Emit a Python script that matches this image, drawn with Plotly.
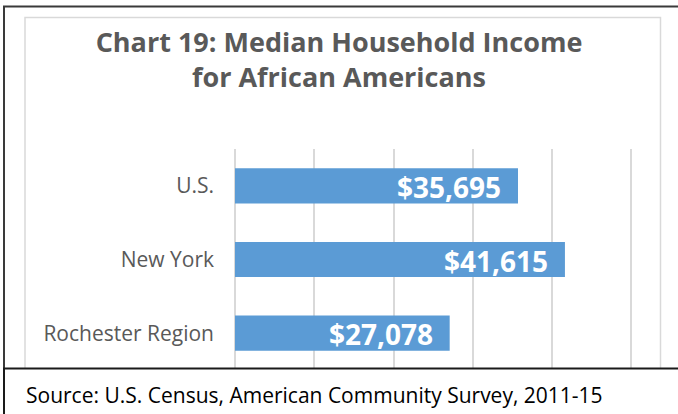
import plotly.graph_objects as go

categories = ["U.S.", "New York", "Rochester Region"]
values = [35695, 41615, 27078]
title_lines = ["Chart 19: Median Household Income", "for African Americans"]
source_text = "Source: U.S. Census, American Community Survey, 2011-15"
x_max = 50200
x_step = 10000

W, H = 678, 414
ML, MR, MT, MB = 235, 45, 149, 44
PW, PH = W - ML - MR, H - MT - MB


def px(p):
    return (p - ML) / PW


def py(p):
    return 1 - (p - MT) / PH


fig = go.Figure()
fig.add_trace(go.Bar(
    y=categories, x=values, orientation="h",
    marker=dict(color="#5B9BD5", line=dict(width=0)),
    hoverinfo="skip",
))

for c, v in zip(categories, values):
    fig.add_annotation(
        x=v, y=c, xref="x", yref="y", text=f"${v:,}", showarrow=False,
        xanchor="right", yanchor="middle", xshift=-15, yshift=-1,
        font=dict(family="Open Sans", size=28, color="white", weight="bold"),
    )

shapes = [
    # inner light chart border
    dict(type="rect", xref="paper", yref="paper", x0=px(25), x1=px(660.5), y0=py(430), y1=py(17.5),
         line=dict(color="#D9D9D9", width=1.5), fillcolor="rgba(0,0,0,0)", layer="below"),
    # outer dark border (left and top)
    dict(type="path", xref="paper", yref="paper",
         path=f"M {px(4)},{py(430)} L {px(4)},{py(6.5)} L {px(690)},{py(6.5)}",
         line=dict(color="#3A3A3A", width=2), layer="above"),
    # source box
    dict(type="rect", xref="paper", yref="paper", x0=px(4), x1=px(690), y0=py(430), y1=py(368.5),
         line=dict(color="#1A1A1A", width=2), fillcolor="white", layer="above"),
]

fig.add_annotation(
    xref="paper", yref="paper", x=px(24), y=py(395), xanchor="left", yanchor="middle",
    text=source_text, showarrow=False,
    font=dict(family="Open Sans", size=21, color="black"),
)

fig.update_layout(
    width=W, height=H,
    margin=dict(l=ML, r=MR, t=MT, b=MB, pad=0),
    paper_bgcolor="white", plot_bgcolor="white",
    showlegend=False,
    bargap=0.523,
    shapes=shapes,
    title=dict(
        text="<br>".join(title_lines),
        x=0.5, xanchor="center", xref="container",
        y=1 - 52 / H, yanchor="top", yref="container",
        font=dict(family="Open Sans", size=27, color="#595959", weight="bold"),
    ),
    xaxis=dict(
        range=[0, x_max], dtick=x_step, tick0=0,
        showgrid=True, gridcolor="#D9D9D9", gridwidth=1.5,
        zeroline=True, zerolinecolor="#D9D9D9", zerolinewidth=1.5,
        showticklabels=False, showline=False, ticks="", fixedrange=True,
    ),
    yaxis=dict(
        categoryorder="array", categoryarray=categories, autorange="reversed",
        showgrid=False, zeroline=False, showline=False, ticks="",
        ticklabelstandoff=20,
        tickfont=dict(family="Open Sans", size=21, color="#595959"),
        fixedrange=True,
    ),
)

fig.write_html(
    "out.html",
    config=dict(displayModeBar=False),
    post_script="document.body.style.margin='0';document.body.style.overflow='hidden';",
)
